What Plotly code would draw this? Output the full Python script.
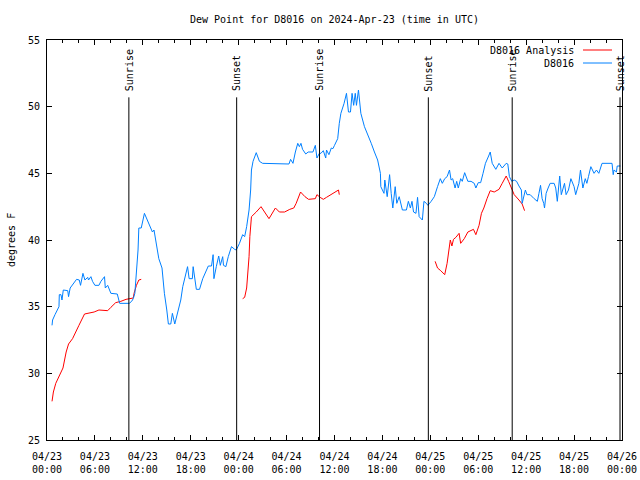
import pandas as pd
import plotly.graph_objects as go

# ---------------- data ----------------
BASE = "2024-04-23 00:00"

blue_hours = [0.63, 0.7, 1.0, 1.5, 1.54, 1.75, 1.875, 2.04, 2.6, 2.7, 2.9, 3.3, 3.54, 3.7, 4.04, 4.2,
              4.5, 4.75, 5.1, 5.2, 5.5, 5.7, 6.0, 6.5, 6.75, 7.2, 7.3, 7.6, 8.0, 8.8, 9.1, 10.3,
              10.6, 10.8, 11.0, 11.15, 11.4, 11.5, 11.8, 12.2, 12.6, 13.2, 13.4, 13.6, 14.0, 14.4,
              14.7, 15.0, 15.2, 15.5, 15.7, 16.0, 16.3, 16.75, 17.0, 17.4, 17.6, 17.8,
              18.2, 18.3, 18.5, 18.7, 19.1, 19.5, 20.2, 20.6, 20.8, 20.9, 21.2, 21.5, 21.7, 22.0,
              22.1, 22.4, 22.7, 23.1, 23.5, 23.7, 24.1, 24.5, 24.75, 25.0, 25.3, 25.5, 25.6, 25.8,
              26.2, 26.6, 27.0, 28.3, 29.1, 30.3, 30.5, 30.8, 31.1, 31.4, 31.6, 31.8, 32.0, 32.4,
              32.7, 33.3, 33.6, 33.8, 34.1, 34.3, 34.6, 34.9, 35.0, 35.3, 35.6, 35.8,
              36.0, 36.4, 36.6, 36.8, 37.2, 37.5, 37.75, 38.0, 38.2, 38.4, 38.6, 38.75, 39.0, 39.3,
              39.75, 40.2, 40.6, 41.0, 41.4, 41.75, 41.8, 42.2, 42.3, 42.6, 42.9, 43.1, 43.3, 43.6,
              43.8, 44.1, 44.5, 45.0, 45.25, 45.5, 45.7, 45.9, 46.2, 46.4, 46.6, 47.0, 47.2, 47.5,
              47.7, 48.1, 48.5, 48.9, 49.25, 49.5, 49.8, 50.1, 50.4, 50.6, 50.8, 51.1, 51.3, 51.5,
              51.8, 52.0, 52.3, 52.7, 53.1, 53.5, 53.7, 54.0,
              54.3, 54.6, 54.9, 55.3, 55.5, 55.75, 56.2, 56.6, 57.0, 57.5, 57.7, 57.9, 58.2, 58.5,
              58.8, 59.1, 59.4, 59.5, 59.7, 59.9, 60.1, 60.5, 61.0, 61.4, 61.6, 61.8, 62.0, 62.2,
              62.3, 62.5, 62.75, 63.0, 63.5, 63.7, 63.9, 64.2, 64.4, 64.8, 65.0, 65.3, 65.6, 66.0,
              66.2, 66.6, 66.8, 67.1, 67.4, 67.6, 67.8, 68.1, 68.5, 68.8, 69.1, 69.3, 69.5, 70.75,
              70.9, 71.0, 71.3, 71.4, 71.8]
blue_values = [33.6, 34.0, 34.4, 35.0, 35.9, 35.9, 35.5, 36.25, 36.2, 35.75, 36.4, 36.7, 36.85, 37.05, 37.0, 36.6,
               37.5, 37.0, 37.2, 37.0, 37.25, 36.9, 36.6, 36.6, 36.9, 37.25, 36.4, 36.6, 36.0, 35.95, 35.25, 35.25,
               35.4, 35.6, 36.0, 37.1, 39.25, 40.9, 40.9, 42.0, 41.4, 40.6, 40.75, 40.1, 38.6, 37.9,
               36.0, 34.75, 33.7, 33.7, 34.5, 33.7, 34.4, 35.5, 36.5, 37.5, 38.0, 37.1,
               37.1, 38.0, 37.1, 36.3, 36.3, 37.1, 38.05, 38.05, 38.9, 37.1, 38.0, 38.8, 38.1, 38.75,
               38.1, 38.0, 38.75, 39.5, 39.3, 39.25, 39.75, 40.4, 40.25, 41.0, 42.25, 43.75, 45.25, 45.9,
               46.55, 45.9, 45.75, 45.75, 45.7, 45.7, 46.05, 45.75, 46.6, 47.25, 47.0, 47.25, 46.8, 46.45,
               46.6, 46.6, 47.1, 46.15, 46.5, 46.5, 46.7, 46.15, 46.75, 46.4, 46.9, 46.85,
               47.1, 47.6, 48.75, 49.5, 50.25, 51.0, 49.6, 49.6, 51.0, 50.1, 51.0, 50.1, 51.25, 49.5,
               48.5, 47.9, 47.25, 46.6, 46.0, 45.0, 44.0, 43.5, 44.5, 43.25, 44.9, 43.5, 42.4, 44.0,
               42.75, 43.25, 42.25, 42.25, 42.9, 42.4, 42.9, 42.1, 42.0, 43.2, 41.75, 41.5, 42.9, 42.75,
               42.6, 42.9, 43.25, 44.0, 44.6, 44.25, 44.6, 44.75, 45.25, 44.5, 44.6, 43.9, 44.4, 43.9,
               44.6, 44.4, 45.05, 44.4, 44.4, 44.25, 43.9, 44.3,
               44.3, 45.0, 45.75, 46.3, 46.6, 45.75, 45.3, 45.75, 45.4, 45.75, 45.7, 44.75, 44.4, 44.5,
               44.4, 44.05, 43.75, 42.75, 43.25, 43.75, 43.4, 43.4, 43.1, 42.9, 43.5, 44.1, 43.1, 42.75,
               42.4, 43.5, 43.9, 44.25, 44.25, 43.9, 42.9, 44.8, 43.4, 44.25, 43.4, 43.75, 44.6, 44.0,
               43.4, 44.25, 45.25, 43.9, 44.6, 44.25, 44.75, 45.5, 45.0, 45.25, 45.0, 45.4, 45.75, 45.75,
               44.9, 45.25, 45.1, 45.55, 45.55]

red_hours = [0.63, 0.8, 1.1, 1.5, 2.0, 2.4, 2.7, 3.2, 3.6, 4.0, 4.7, 5.3, 5.9, 6.5, 7.2, 7.6, 8.0,
             8.6, 9.25, 9.9, 10.8, 10.9, 11.2, 11.5, 11.8, None,
             24.5, 24.75, 25.0, 25.2, 25.3, 25.4, 25.5, 25.6, 26.2, 26.8, 27.8, 28.6, 29.1, 29.75,
             30.4, 30.9, 31.2, 31.75, 32.3, 32.75, 33.6, 33.8, 34.2, 34.6, 35.0, 35.6, 36.2, 36.5,
             36.6, None,
             48.6, 48.9, 49.3, 49.7, 49.8, 50.1, 50.25, 50.5, 50.7, 50.9, 51.2, 51.6, 51.8, 52.25,
             52.7, 53.1, 53.4, 53.7, 53.9, 54.1, 54.4, 54.7, 55.1, 55.5, 56.0, 56.6, 57.0, 57.5,
             57.8, 58.2, 58.5, 59.1, 59.5, 59.8]
red_values = [27.9, 28.6, 29.25, 29.75, 30.4, 31.6, 32.2, 32.6, 33.05, 33.6, 34.45, 34.5, 34.6, 34.75, 34.7, 34.7, 34.95,
              35.3, 35.4, 35.55, 35.65, 36.0, 36.6, 37.0, 37.05, None,
              35.6, 35.7, 36.4, 37.6, 38.75, 40.25, 41.25, 41.75, 42.1, 42.5, 41.6, 42.4, 42.1, 42.1,
              42.3, 42.4, 42.75, 43.6, 43.25, 43.05, 43.1, 43.4, 43.2, 43.05, 43.2, 43.4, 43.6, 43.75,
              43.4, None,
              38.4, 37.9, 37.7, 37.5, 37.4, 38.25, 39.05, 40.0, 39.55, 40.05, 40.2, 40.5, 39.75, 40.1,
              40.6, 40.75, 40.8, 40.4, 40.8, 41.1, 42.0, 42.4, 43.1, 43.7, 43.6, 43.8, 44.25, 44.8,
              44.4, 43.9, 43.4, 43.0, 42.7, 42.2]

sun_event_hours = [10.25, 23.75, 34.125, 47.75, 58.25, 71.75]
sun_event_labels = ["Sunrise", "Sunset", "Sunrise", "Sunset", "Sunrise", "Sunset"]

y_ticks = [25, 30, 35, 40, 45, 50, 55]
series_names = ["D8016 Analysis", "D8016"]
title_text = "Dew Point for D8016 on 2024-Apr-23 (time in UTC)"
y_title = "degrees F"

# ---------------- helpers ----------------
base = pd.Timestamp(BASE)


def to_time(hours):
    return [None if h is None else base + pd.Timedelta(hours=h) for h in hours]


RED = "#ff0000"
BLUE = "#0080ff"
FONT = "DejaVu Sans Mono"

W, H = 640, 480
L, R, T, B = 47, 622, 40, 440   # plot area in page pixels

fig = go.Figure()
fig.add_trace(go.Scatter(x=to_time(red_hours), y=red_values, mode="lines",
                         line=dict(color=RED, width=1), name=series_names[0],
                         connectgaps=False))
fig.add_trace(go.Scatter(x=to_time(blue_hours), y=blue_values, mode="lines",
                         line=dict(color=BLUE, width=1), name=series_names[1]))

# sunrise / sunset markers
for h, lab in zip(sun_event_hours, sun_event_labels):
    t = base + pd.Timedelta(hours=h)
    fig.add_shape(type="line", xref="x", yref="y", x0=t, x1=t, y0=25, y1=50.7,
                  line=dict(color="black", width=1))
    fig.add_annotation(x=t, y=51.0, xref="x", yref="y", text=lab, textangle=-90,
                       showarrow=False, xanchor="center", yanchor="bottom",
                       font=dict(family=FONT, size=10, color="black"))


def px(xp):
    return (xp - L) / (R - L)


def py(yp):
    return (B - yp) / (B - T)


# legend drawn gnuplot-style (text right-aligned, sample on the right)
for i, (name, col) in enumerate(zip(series_names, [RED, BLUE])):
    yy = 50 + 13 * i
    fig.add_annotation(x=px(576), y=py(yy), xref="paper", yref="paper", text=name,
                       showarrow=False, xanchor="right", yanchor="middle",
                       font=dict(family=FONT, size=10, color="black"))
    fig.add_shape(type="line", xref="paper", yref="paper", x0=px(583), x1=px(612),
                  y0=py(yy), y1=py(yy), line=dict(color=col, width=1))

fig.add_annotation(x=0, y=0.5, xref="paper", yref="paper", text=y_title, textangle=-90,
                   showarrow=False, xanchor="center", yanchor="middle", xshift=-(L - 11),
                   font=dict(family=FONT, size=10, color="black"))

fig.update_layout(
    width=W, height=H, autosize=False,
    margin=dict(l=L, r=W - R, t=T, b=H - B, pad=0, autoexpand=False),
    paper_bgcolor="white", plot_bgcolor="white",
    showlegend=False,
    font=dict(family=FONT, size=10, color="black"),
    title=dict(text=title_text, x=0.5, xref="paper", y=1 - 19 / H, yanchor="middle",
               font=dict(family=FONT, size=10, color="black")),
)
fig.update_xaxes(
    type="date", range=[base, base + pd.Timedelta(hours=72)], automargin=False,
    tick0=base, dtick=6 * 3600 * 1000, tickformat="%m/%d<br>%H:%M",
    ticks="inside", ticklen=5, tickcolor="black", tickwidth=1,
    showline=True, linecolor="black", linewidth=1, mirror="ticks",
    showgrid=False, zeroline=False, ticklabelstandoff=7,
    minor=dict(dtick=2 * 3600 * 1000, ticks="inside", ticklen=3, tickcolor="black", showgrid=False),
    tickfont=dict(family=FONT, size=10, color="black"),
)
fig.update_yaxes(
    range=[25, 55], tickvals=y_ticks, ticktext=[str(v) for v in y_ticks], automargin=False,
    ticks="inside", ticklen=5, tickcolor="black", tickwidth=1,
    showline=True, linecolor="black", linewidth=1, mirror="ticks",
    showgrid=False, zeroline=False, ticklabelstandoff=4,
    tickfont=dict(family=FONT, size=10, color="black"),
)

# remove the browser's default body margin so the 640x480 figure fills the window
fig.write_html("out.html",
               config={"displayModeBar": False, "staticPlot": True},
               post_script="document.body.style.margin='0';document.body.style.overflow='hidden';")
